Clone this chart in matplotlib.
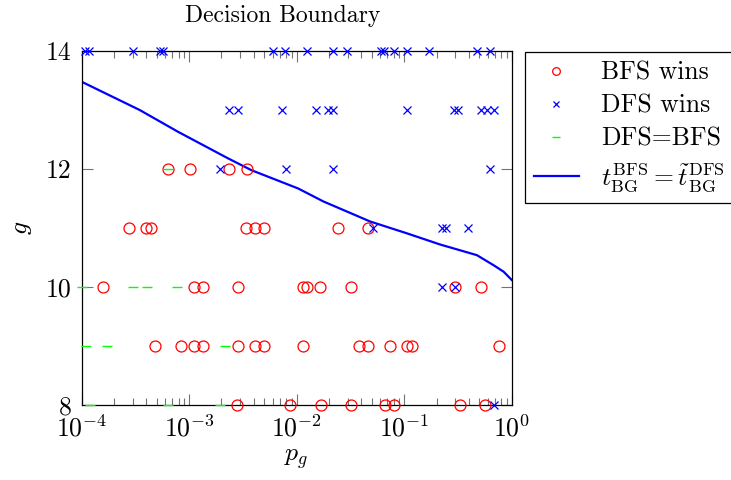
import matplotlib
matplotlib.use('Agg')
import numpy as np
import matplotlib.pyplot as plt
from matplotlib.ticker import LogLocator, FuncFormatter, NullFormatter, FixedLocator

plt.rcParams['font.family'] = 'serif'
plt.rcParams['font.serif'] = ['cmr10', 'DejaVu Serif']
plt.rcParams['mathtext.fontset'] = 'cm'
plt.rcParams['axes.unicode_minus'] = False

# p_g values, one list per g row
bfs_p = {
    12: [6.4e-4, 1.02e-3, 2.35e-3, 3.46e-3],
    11: [2.77e-4, 3.98e-4, 4.44e-4, 3.4e-3, 4.11e-3, 4.99e-3, 0.0243, 0.0462],
    10: [1.58e-4, 1.11e-3, 1.35e-3, 2.86e-3, 0.0115, 0.0125, 0.0166, 0.0321, 0.298, 0.52],
    9: [4.83e-4, 8.43e-4, 1.11e-3, 1.35e-3, 2.86e-3, 4.11e-3, 4.99e-3, 0.0115,
        0.0381, 0.0462, 0.0741, 0.1066, 0.1186, 0.765],
    8: [2.8e-3, 8.7e-3, 0.0168, 0.0321, 0.0666, 0.0807, 0.332, 0.566],
}
dfs_p = {
    14: [1.08e-4, 1.17e-4, 3.01e-4, 5.37e-4, 5.73e-4, 6.04e-3, 7.81e-3, 0.0125, 0.0219,
         0.0295, 0.0611, 0.0652, 0.0807, 0.1066, 0.171, 0.477, 0.631],
    13: [2.35e-3, 2.86e-3, 7.33e-3, 0.0152, 0.0196, 0.0219, 0.1066, 0.2917, 0.318,
         0.52, 0.591, 0.687],
    12: [1.94e-3, 7.98e-3, 0.0219, 0.631],
    11: [0.0515, 0.2256, 0.246, 0.394],
    10: [0.2256, 0.298],
    8: [0.687],
}
eq_p = {
    12: [6.4e-4],
    10: [1.0e-4, 3.03e-4, 4.04e-4, 7.69e-4],
    9: [1.10e-4, 1.74e-4, 2.16e-3],
    8: [1.2e-4, 6.4e-4, 1.94e-3],
}

# boundary curve t_BG^BFS = t~_BG^DFS
curve_p = [1e-4, 3.475e-4, 7.91e-4, 2.307e-3, 3.80e-3, 0.01033, 0.01774, 0.0483,
           0.1059, 0.2163, 0.4742, 0.6776, 0.84, 1.0]
curve_g = [13.48, 13.00, 12.63, 12.18, 11.98, 11.67, 11.45, 11.11,
           10.91, 10.72, 10.54, 10.37, 10.26, 10.12]


def flat(d):
    xs, ys = [], []
    for g, ps in d.items():
        xs += ps
        ys += [g] * len(ps)
    return xs, ys


fig = plt.figure(figsize=(7.31, 4.80), dpi=100)
ax = fig.add_axes([81.5 / 731, 1 - 405 / 480, (511.7 - 81.5) / 731, (405 - 51) / 480])

bx, by = flat(bfs_p)
dx, dy = flat(dfs_p)
ex, ey = flat(eq_p)
ax.plot(bx, by, 'o', ls='none', mfc='none', mec='red', ms=7.9, mew=0.9,
        clip_on=False, zorder=3, label='BFS wins')
ax.plot(dx, dy, 'x', ls='none', color='blue', ms=6.0, mew=0.9,
        clip_on=False, zorder=3, label='DFS wins')
ax.plot(ex, ey, '_', ls='none', color='#00ff00', ms=7.5, mew=1.0,
        clip_on=False, zorder=3, label='DFS=BFS')
ax.plot(curve_p, curve_g, color='blue', lw=1.6, zorder=2,
        label=r'$t_{\mathrm{BG}}^{\mathrm{BFS}} = \tilde{t}_{\mathrm{BG}}^{\mathrm{DFS}}$')

ax.set_xscale('log')
ax.set_xlim(1e-4, 1)
ax.set_ylim(8, 14)
ax.xaxis.set_major_locator(LogLocator(base=10, numticks=10))
ax.xaxis.set_minor_locator(LogLocator(base=10, subs=np.arange(2, 10), numticks=20))
ax.xaxis.set_major_formatter(FuncFormatter(lambda v, pos: r'$10^{%d}$' % round(np.log10(v))))
ax.xaxis.set_minor_formatter(NullFormatter())
ax.yaxis.set_major_locator(FixedLocator([8, 10, 12, 14]))

ax.tick_params(which='both', direction='in', top=True, right=True,
               color='0.45', width=0.8, labelsize=18.5)
ax.tick_params(which='major', length=8, pad=7)
ax.tick_params(which='minor', length=5)
for s in ax.spines.values():
    s.set_linewidth(0.9)

ax.set_title('Decision Boundary', fontsize=17, pad=21, x=(283 - 81.5) / 430)
ax.set_xlabel('$p_g$', fontsize=18.5, labelpad=4)
ax.set_ylabel('$g$', fontsize=18.5, labelpad=9)

leg = ax.legend(loc='upper left', bbox_to_anchor=(525 / 731, 1 - 52 / 480),
                bbox_transform=fig.transFigure, borderaxespad=0, fontsize=18.5,
                fancybox=False, edgecolor='black', framealpha=1,
                handlelength=1.75, handletextpad=0.85, markerscale=0.7,
                labelspacing=0.36, borderpad=0.35)
leg.get_frame().set_linewidth(0.9)

fig.savefig('out.png', dpi=100)
